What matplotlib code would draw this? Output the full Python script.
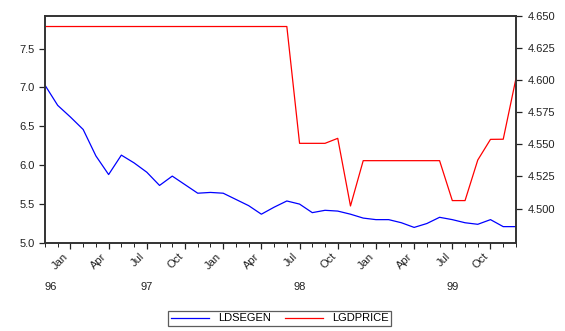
import matplotlib
matplotlib.use('Agg')
import matplotlib.pyplot as plt
import matplotlib.transforms as mtransforms
import pandas as pd

plt.rcParams['font.family'] = ['Liberation Sans', 'DejaVu Sans']

# monthly observations, Nov 1996 - Dec 1999
months = pd.date_range('1996-11-01', periods=38, freq='MS')

ldsegen = [7.03, 6.77, 6.62, 6.46, 6.12, 5.88, 6.13, 6.03, 5.91, 5.74,
           5.86, 5.75, 5.64, 5.65, 5.64, 5.56, 5.48, 5.37, 5.46, 5.54,
           5.50, 5.39, 5.42, 5.41, 5.37, 5.32, 5.30, 5.30, 5.26, 5.20,
           5.25, 5.33, 5.30, 5.26, 5.24, 5.30, 5.21, 5.21]

lgdprice = [4.6418] * 20 + [4.5508, 4.5508, 4.5508, 4.5547, 4.5020,
                            4.5373, 4.5373, 4.5373, 4.5373, 4.5373, 4.5373,
                            4.5373, 4.5062, 4.5062, 4.5378, 4.5539, 4.5540,
                            4.6013]

left_ticks = [5.0, 5.5, 6.0, 6.5, 7.0, 7.5]
right_ticks = [4.500, 4.525, 4.550, 4.575, 4.600, 4.625, 4.650]
month_names = {1: 'Jan', 4: 'Apr', 7: 'Jul', 10: 'Oct'}

x = list(range(len(months)))

fig = plt.figure(figsize=(5.65, 3.31), dpi=100)
ax = fig.add_axes([0.0796, 0.266, 0.8336, 0.6857])
ax2 = ax.twinx()

l1, = ax.plot(x, ldsegen, color='#0000ff', lw=0.9, label='LDSEGEN')
l2, = ax2.plot(x, lgdprice, color='#ff0000', lw=0.9, label='LGDPRICE')

ax.set_xlim(0, len(months) - 1)
ax.set_ylim(5.0, 7.92)
ax2.set_ylim(4.4732, 4.650)

ax.set_yticks(left_ticks)
ax.set_yticklabels(['%.1f' % v for v in left_ticks])
ax2.set_yticks(right_ticks)
ax2.set_yticklabels(['%.3f' % v for v in right_ticks])

major = [i for i, m in enumerate(months) if m.month in month_names]
ax.set_xticks(major)
ax.set_xticklabels([month_names[months[i].month] for i in major],
                   rotation=45, ha='right')
ax.set_xticks(x, minor=True)

for a in (ax, ax2):
    for s in a.spines.values():
        s.set_color('#333333')
        s.set_linewidth(1.2)
    a.tick_params(labelsize=8, colors='#222222', width=0.9)
ax.tick_params(axis='x', which='major', length=4, pad=2)
ax.tick_params(axis='x', which='minor', length=3)
ax.tick_params(axis='y', length=4)
ax2.tick_params(axis='y', length=4, pad=4.5)

# year labels below month labels
trans = mtransforms.blended_transform_factory(ax.transData, ax.transAxes)
years = sorted(set(m.year for m in months))
for yr in years:
    idx = [i for i, m in enumerate(months) if m.year == yr]
    label = str(yr)[2:]
    if len(idx) < 12:
        ax.text(idx[0], -0.195, label, transform=trans, ha='left',
                va='center', fontsize=8, color='#222222')
    else:
        ax.text((idx[0] + idx[-1] + 1) / 2, -0.195, label, transform=trans,
                ha='center', va='center', fontsize=8, color='#222222')

leg = fig.legend(handles=[l1, l2], loc='center', ncol=2,
                 bbox_to_anchor=(0.495, 0.038), fontsize=8, frameon=True,
                 fancybox=False, edgecolor='#333333', handlelength=3.4,
                 borderpad=0.25, columnspacing=1.3, handletextpad=0.8)
leg.get_frame().set_linewidth(0.9)

fig.savefig('out.png', dpi=100)
